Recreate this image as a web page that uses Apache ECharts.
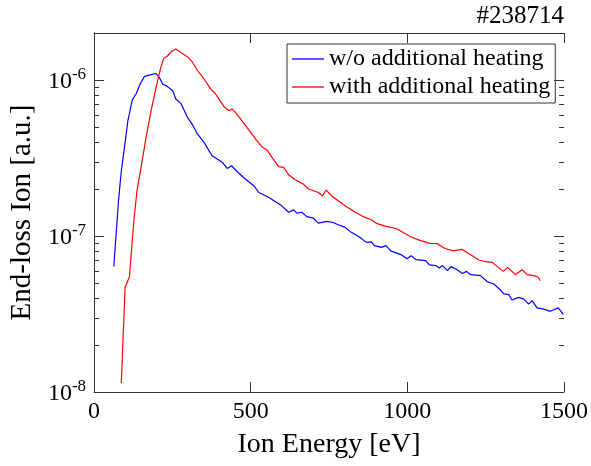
<!DOCTYPE html>
<html><head><meta charset="utf-8">
<script src="https://cdn.jsdelivr.net/npm/echarts@6/dist/echarts.min.js"></script>
<style>html,body{margin:0;padding:0;background:#fff}#c{width:591px;height:466px}</style>
</head><body><div id="c"></div>
<script>
const seriesNames = ['w/o additional heating', 'with additional heating'];
const titleText = '#238714';
const xName = 'Ion Energy [eV]';
const yName = 'End-loss Ion [a.u.]';
const xTicks = [0, 500, 1000, 1500];

const blueE = [63,78,87,97,108,122,134,147,161,182,198,208,219,235,251,261,277,298,314,330,351,362,377,393,409,425,439,457,483,510,526,557,599,621,637,647,663,679,700,716,742,763,779,800,821,848,869,885,895,917,932,948,980,999,1012,1028,1059,1070,1091,1102,1112,1128,1139,1155,1176,1189,1202,1234,1255,1276,1297,1308,1324,1334,1355,1371,1387,1398,1414,1435,1456,1482,1498];
const blueV = [6.38e-8,1.68e-7,2.62e-7,3.70e-7,5.48e-7,7.45e-7,8.13e-7,9.43e-7,1.054e-6,1.081e-6,
1.10e-6,1.04e-6,9.42e-7,9.06e-7,8.54e-7,7.55e-7,7.08e-7,5.76e-7,5.17e-7,4.51e-7,
3.98e-7,3.66e-7,3.27e-7,3.12e-7,2.97e-7,2.71e-7,2.82e-7,2.58e-7,2.32e-7,2.10e-7,
1.90e-7,1.77e-7,1.56e-7,1.42e-7,1.47e-7,1.40e-7,1.42e-7,1.33e-7,1.30e-7,1.21e-7,
1.24e-7,1.22e-7,1.18e-7,1.14e-7,1.055e-7,9.80e-8,9.10e-8,9.16e-8,8.67e-8,8.45e-8,
8.67e-8,7.99e-8,7.59e-8,7.15e-8,7.48e-8,7.05e-8,6.95e-8,6.52e-8,6.46e-8,6.24e-8,
6.46e-8,6.00e-8,6.36e-8,6.14e-8,5.75e-8,5.93e-8,5.65e-8,5.57e-8,5.09e-8,4.92e-8,
4.51e-8,4.25e-8,4.21e-8,3.89e-8,4.04e-8,3.95e-8,3.66e-8,3.85e-8,3.46e-8,3.40e-8,
3.29e-8,3.46e-8,3.13e-8];

const redE = [87,99,113,127,137,150,166,182,198,213,222,235,247,261,277,298,314,330,351,372,388,415,430,441,457,488,515,536,552,568,589,605,621,642,668,684,716,729,741,758,779,806,834,863,885,901,929,964,991,1012,1040,1072,1096,1120,1147,1175,1202,1228,1250,1271,1287,1306,1320,1345,1366,1382,1403,1416,1424];
const redV = [1.14e-8,4.69e-8,5.48e-8,1.25e-7,1.95e-7,2.75e-7,4.28e-7,6.35e-7,8.97e-7,1.205e-6,
1.37e-6,1.43e-6,1.52e-6,1.58e-6,1.50e-6,1.41e-6,1.30e-6,1.15e-6,1.015e-6,8.76e-7,
8.13e-7,6.74e-7,6.36e-7,6.52e-7,5.99e-7,4.97e-7,4.19e-7,3.72e-7,3.56e-7,3.19e-7,
2.78e-7,2.75e-7,2.47e-7,2.29e-7,2.15e-7,2.00e-7,1.90e-7,1.81e-7,1.97e-7,1.81e-7,
1.68e-7,1.54e-7,1.42e-7,1.32e-7,1.27e-7,1.205e-7,1.156e-7,1.117e-7,1.04e-7,9.85e-8,
9.38e-8,8.97e-8,8.93e-8,8.31e-8,8.02e-8,8.20e-8,7.59e-8,7.02e-8,6.84e-8,6.77e-8,
6.36e-8,5.93e-8,6.29e-8,5.65e-8,6.08e-8,5.65e-8,5.57e-8,5.48e-8,5.17e-8];

const FONT = 'Liberation Serif';
const AX = '#333333';
const X_MIN = 0, X_MAX = 1500, Y_MIN = 1e-8, Y_MAX = 2e-6;

const chart = echarts.init(document.getElementById('c'), null, {renderer: 'canvas'});

function yLabel(v) {
  const l = Math.log10(v), e = Math.round(l);
  if (Math.abs(l - e) > 1e-6) return '';
  return '{b|10}{s|' + e + '}';
}

const option = {
  animation: false,
  backgroundColor: '#fff',
  title: {
    text: titleText, right: 27, top: 4, padding: 0,
    textStyle: {fontFamily: FONT, fontSize: 25, fontWeight: 'normal', color: '#000'}
  },
  legend: {
    orient: 'vertical', left: 287, top: 44,
    padding: [1, 5, 2, 5], itemGap: 0, itemWidth: 32, itemHeight: 1.3,
    icon: 'rect',
    backgroundColor: '#fff', borderColor: AX, borderWidth: 1,
    textStyle: {fontFamily: FONT, fontSize: 24, color: '#000', lineHeight: 28},
    data: seriesNames
  },
  grid: {left: 91, right: 27, top: 33, bottom: 74, containLabel: false},
  xAxis: [{
    type: 'value', min: X_MIN, max: X_MAX, interval: 500, position: 'bottom',
    name: xName, nameLocation: 'middle', nameGap: 39,
    nameTextStyle: {fontFamily: FONT, fontSize: 28, color: '#000'},
    axisLine: {show: true, lineStyle: {color: AX, width: 1}},
    axisTick: {show: true, inside: true, length: 10, lineStyle: {color: AX}},
    axisLabel: {fontFamily: FONT, fontSize: 24, color: '#000', margin: 8,
      formatter: v => xTicks.includes(v) ? String(v) : ''},
    splitLine: {show: false}
  }, {
    type: 'value', min: X_MIN, max: X_MAX, interval: 500, position: 'top',
    axisLine: {show: true, lineStyle: {color: AX, width: 1}},
    axisTick: {show: true, inside: true, length: 10, lineStyle: {color: AX}},
    axisLabel: {show: false}, splitLine: {show: false}
  }],
  yAxis: [{
    type: 'log', logBase: 10, min: Y_MIN, max: Y_MAX, position: 'left',
    name: yName, nameLocation: 'middle', nameGap: 52, nameRotate: 90,
    nameTextStyle: {fontFamily: FONT, fontSize: 29, color: '#000'},
    axisLine: {show: true, lineStyle: {color: AX, width: 1}},
    axisTick: {show: false},
    axisLabel: {
      margin: 8, showMaxLabel: false, formatter: yLabel,
      rich: {
        b: {fontFamily: FONT, fontSize: 24, color: '#000', verticalAlign: 'bottom', lineHeight: 28},
        s: {fontFamily: FONT, fontSize: 17, color: '#000', verticalAlign: 'top', lineHeight: 17}
      }
    },
    splitLine: {show: false}
  }, {
    type: 'log', logBase: 10, min: Y_MIN, max: Y_MAX, position: 'right',
    axisLine: {show: true, lineStyle: {color: AX, width: 1}},
    axisTick: {show: false}, axisLabel: {show: false}, splitLine: {show: false}
  }],
  series: [{
    name: seriesNames[0], type: 'line', xAxisIndex: 0, yAxisIndex: 0,
    data: blueE.map((e, i) => [e, blueV[i]]),
    symbol: 'none', lineStyle: {color: '#0000ff', width: 1.2}, itemStyle: {color: '#0000ff'}
  }, {
    name: seriesNames[1], type: 'line', xAxisIndex: 0, yAxisIndex: 0,
    data: redE.map((e, i) => [e, redV[i]]),
    symbol: 'none', lineStyle: {color: '#ff0000', width: 1.2}, itemStyle: {color: '#ff0000'}
  }]
};
chart.setOption(option);

// log-scale minor/major ticks on left and right sides, positioned via the axis scale
const g = [];
const xl = chart.convertToPixel({xAxisIndex: 0}, X_MIN);
const xr = chart.convertToPixel({xAxisIndex: 0}, X_MAX);
for (let d = -8; d <= -6; d++) {
  for (let m = 1; m <= 9; m++) {
    const v = m * Math.pow(10, d);
    if (v >= Y_MAX) break;
    const y = Math.round(chart.convertToPixel({yAxisIndex: 0}, v)) + 0.5;
    const len = m === 1 ? 10 : 5;
    g.push({type: 'line', shape: {x1: xl, y1: y, x2: xl + len, y2: y}, style: {stroke: AX, lineWidth: 1}, z: 10});
    g.push({type: 'line', shape: {x1: xr - len, y1: y, x2: xr, y2: y}, style: {stroke: AX, lineWidth: 1}, z: 10});
  }
}
chart.setOption({graphic: g});
</script></body></html>
